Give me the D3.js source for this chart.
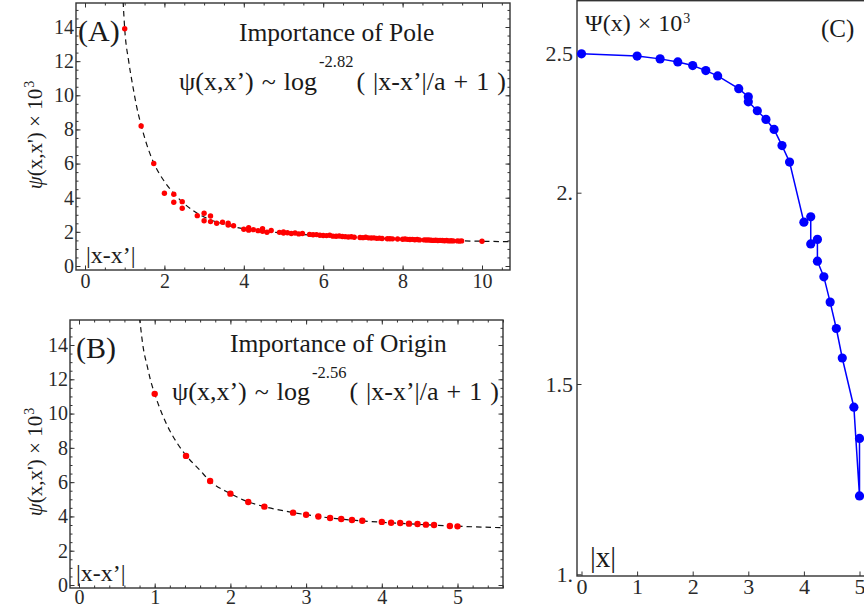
<!DOCTYPE html>
<html>
<head>
<meta charset="utf-8">
<script src="https://cdn.jsdelivr.net/npm/d3@7"></script>
<style>
  body { margin: 0; background: #fff; }
  svg text { font-family: "Liberation Serif", "Times New Roman", serif; }
</style>
</head>
<body>
<svg id="chart" width="864" height="612"></svg>
<script>
// ---- panel A : importance of pole ----
const distA = [1.000, 1.414, 1.732, 2.000, 2.236, 2.236, 2.449, 2.449, 2.828, 3.000, 3.000, 3.162, 3.162,
  3.317, 3.464, 3.606, 3.606, 3.742, 4.000, 4.123, 4.123, 4.243, 4.359, 4.472, 4.472, 4.583, 4.690, 4.899,
  5.000, 5.000, 5.099, 5.196, 5.292, 5.385, 5.477, 5.657, 5.745, 5.831, 5.916, 6.000, 6.083, 6.164, 6.245,
  6.325, 6.403, 6.481, 6.557, 6.633, 6.708, 6.782, 6.928, 7.000, 7.071, 7.141, 7.211, 7.280, 7.348, 7.416,
  7.483, 7.616, 7.681, 7.746, 7.874, 8.000, 8.062, 8.124, 8.185, 8.246, 8.307, 8.367, 8.426, 8.544, 8.602,
  8.660, 8.718, 8.775, 8.832, 8.888, 8.944, 9.000, 9.055, 9.110, 9.165, 9.220, 9.274, 9.381, 9.434, 9.487, 10.000];
const psiA = [13.9, 8.2, 6.0, 4.26, 4.2, 3.73, 3.77, 3.38, 2.95, 3.09, 2.65, 2.93, 2.6,
  2.5, 2.56, 2.4, 2.5, 2.36, 2.15, 2.24, 2.1, 2.13, 2.07, 2.18, 2.03, 1.98, 2.08, 1.97,
  1.93, 2.0, 1.95, 1.9, 1.93, 1.88, 1.9, 1.85, 1.83, 1.84, 1.8, 1.79, 1.78, 1.8, 1.75,
  1.74, 1.76, 1.73, 1.72, 1.7, 1.71, 1.68, 1.67, 1.66, 1.68, 1.65, 1.64, 1.65, 1.62, 1.63,
  1.61, 1.6, 1.6, 1.59, 1.58, 1.57, 1.58, 1.56, 1.55, 1.56, 1.54, 1.55, 1.53, 1.53, 1.52,
  1.52, 1.51, 1.5, 1.51, 1.49, 1.5, 1.49, 1.48, 1.49, 1.47, 1.48, 1.47, 1.47, 1.46, 1.47, 1.45];
// dashed fit curve
const fitAx = [0.96, 1.0, 1.1, 1.2, 1.3, 1.42, 1.55, 1.74, 2.0, 2.22, 2.5, 2.75, 3.0, 3.5, 4.0, 4.5, 5.0, 6.0, 7.0, 8.0, 9.0, 10.0, 10.8];
const fitAy = [15.5, 13.9, 12.0, 10.6, 9.35, 8.2, 7.15, 6.0, 4.95, 4.3, 3.65, 3.2, 2.87, 2.45, 2.18, 2.03, 1.93, 1.77, 1.66, 1.57, 1.5, 1.45, 1.42];
const xTicksA = [0, 2, 4, 6, 8, 10];
const yTicksA = [0, 2, 4, 6, 8, 10, 12, 14];

// ---- panel B : importance of origin ----
const distB = [1.000, 1.414, 1.732, 2.000, 2.236, 2.449, 2.828, 3.000, 3.162, 3.317, 3.464, 3.606, 3.742,
  4.000, 4.123, 4.243, 4.359, 4.472, 4.583, 4.690, 4.899, 5.000];
const psiB = [11.15, 7.53, 6.07, 5.33, 4.84, 4.57, 4.22, 4.1, 4.0, 3.91, 3.85, 3.79, 3.75,
  3.68, 3.63, 3.62, 3.58, 3.56, 3.52, 3.5, 3.44, 3.42];
const fitBx = [0.8, 0.85, 0.9, 0.94, 1.0, 1.1, 1.2, 1.3, 1.42, 1.6, 1.73, 2.0, 2.24, 2.45, 2.8, 3.0, 3.5, 4.0, 4.5, 5.0, 5.7];
const fitBy = [15.6, 13.8, 12.8, 12.03, 11.15, 9.95, 9.0, 8.25, 7.53, 6.68, 6.07, 5.33, 4.84, 4.57, 4.25, 4.1, 3.83, 3.66, 3.54, 3.43, 3.33];
const xTicksB = [0, 1, 2, 3, 4, 5];
const yTicksB = [0, 2, 4, 6, 8, 10, 12, 14];

// ---- panel C : Psi(x) ----
const distC = [0, 1.0, 1.414, 1.732, 2.0, 2.236, 2.449, 2.828, 3.0, 3.0, 3.162, 3.317, 3.464, 3.606, 3.742,
  4.0, 4.123, 4.123, 4.243, 4.243, 4.359, 4.472, 4.583, 4.690, 4.899, 5.0, 5.0];
const psiC = [2.498, 2.490, 2.480, 2.469, 2.456, 2.438, 2.419, 2.373, 2.344, 2.326, 2.294, 2.263, 2.227, 2.169, 2.11,
  1.923, 1.937, 1.866, 1.878, 1.821, 1.78, 1.714, 1.645, 1.568, 1.439, 1.206, 1.357];
const xTicksC = [0, 1, 2, 3, 4, 5];
const yTicksC = [1, 1.5, 2, 2.5];
const yLabelsC = ["1.", "1.5", "2.", "2.5"];

const svg = d3.select("#chart");
const SERIF = "'Liberation Serif', 'Times New Roman', serif";

function framePanel(id, box, x, y, o) {
  const g = svg.append("g");
  g.append("clipPath").attr("id", "clip" + id)
    .append("rect").attr("x", box.l).attr("y", box.t).attr("width", box.r - box.l).attr("height", box.b - box.t);

  const inX = v => x(v) >= box.l && x(v) <= box.r;
  const inY = v => y(v) >= box.t && y(v) <= box.b;
  const style = (sel, fs) => {
    sel.attr("font-family", null);
    sel.select(".domain").remove();
    sel.selectAll("line").attr("stroke", "#333").attr("stroke-width", 1);
    sel.selectAll("text").attr("font-size", fs).attr("fill", "#2a2a2a").style("font-family", SERIF);
  };

  // minor ticks
  if (o.xMinor) {
    const mx = o.xMinor.filter(inX), my = o.yMinor.filter(inY);
    g.append("g").attr("transform", `translate(0,${box.b})`).call(d3.axisBottom(x).tickValues(mx).tickSize(-2.5).tickFormat("")).call(s => style(s, 0));
    g.append("g").attr("transform", `translate(0,${box.t})`).call(d3.axisTop(x).tickValues(mx).tickSize(-2.5).tickFormat("")).call(s => style(s, 0));
    g.append("g").attr("transform", `translate(${box.l},0)`).call(d3.axisLeft(y).tickValues(my).tickSize(-2.5).tickFormat("")).call(s => style(s, 0));
    g.append("g").attr("transform", `translate(${box.r},0)`).call(d3.axisRight(y).tickValues(my).tickSize(-2.5).tickFormat("")).call(s => style(s, 0));
  }
  // major ticks with labels
  g.append("g").attr("transform", `translate(0,${box.b})`)
    .call(d3.axisBottom(x).tickValues(o.xTicks).tickSize(-4.5).tickPadding(o.xPad).tickFormat(d3.format("d")))
    .call(s => style(s, o.fs));
  g.append("g").attr("transform", `translate(${box.l},0)`)
    .call(d3.axisLeft(y).tickValues(o.yTicks).tickSize(-4.5).tickPadding(o.yPad).tickFormat((d, i) => o.yFmt ? o.yFmt[i] : d))
    .call(s => style(s, o.fs));
  if (o.allSides) {
    g.append("g").attr("transform", `translate(0,${box.t})`)
      .call(d3.axisTop(x).tickValues(o.xTicks).tickSize(-4.5).tickFormat("")).call(s => style(s, 0));
    g.append("g").attr("transform", `translate(${box.r},0)`)
      .call(d3.axisRight(y).tickValues(o.yTicks).tickSize(-4.5).tickFormat("")).call(s => style(s, 0));
  }
  g.append("rect").attr("x", box.l).attr("y", box.t).attr("width", box.r - box.l).attr("height", box.b - box.t)
    .attr("fill", "none").attr("stroke", "#333").attr("stroke-width", 1.4);
  return g;
}

// pieces of text laid side by side (measured), superscripts lifted
function addText(x, y, parts, fs, opts = {}) {
  const g = svg.append("g");
  let cx = 0;
  parts.forEach(p => {
    const t = g.append("text").attr("x", cx).attr("y", p.sup ? -p.lift : 0)
      .attr("font-size", p.sup ? p.fs : fs).attr("fill", "#1a1a1a").text(p.t);
    if (p.it) t.attr("font-style", "italic");
    if (opts.ws) t.attr("word-spacing", opts.ws);
    cx += t.node().getComputedTextLength() + (p.gap || 0);
  });
  g.attr("transform", opts.rotate
    ? `translate(${x},${y}) rotate(-90) translate(${-cx / 2},0)`
    : `translate(${x},${y})`);
  return g;
}

// ---------- panel A ----------
const boxA = { l: 76, r: 510, t: 3, b: 270 };
const xA = d3.scaleLinear().domain([0, 10]).range([85, 482]);
const yA = d3.scaleLinear().domain([0, 14]).range([266, 27]);
const gA = framePanel("A", boxA, xA, yA, {
  xTicks: xTicksA, yTicks: yTicksA, xMinor: d3.range(-0.5, 11, 0.5), yMinor: d3.range(-0.5, 16, 0.5),
  fs: 20, xPad: 4, yPad: 2, allSides: true
});
const lineA = d3.line().x(d => xA(d[0])).y(d => yA(d[1])).curve(d3.curveMonotoneX);
gA.append("path").datum(fitAx.map((v, i) => [v, fitAy[i]])).attr("d", lineA)
  .attr("clip-path", "url(#clipA)").attr("fill", "none").attr("stroke", "#111").attr("stroke-width", 1.2).attr("stroke-dasharray", "5.5,4");
gA.append("g").selectAll("circle").data(distA.map((v, i) => [v, psiA[i]])).join("circle")
  .attr("cx", d => xA(d[0])).attr("cy", d => yA(d[1])).attr("r", 2.7).attr("fill", "#f00");

addText(78, 41, [{ t: "(A)" }], 30);
addText(239, 41, [{ t: "Importance of Pole" }], 25.5);
addText(179, 90, [{ t: "ψ(x,x’) ~ log", gap: 2 }, { t: "-2.82", sup: true, fs: 16.5, lift: 23, gap: 3 }, { t: "( |x-x’|/a + 1 )" }], 26, { ws: 1.5 });
addText(86, 263, [{ t: "|x-x’|" }], 24);
addText(42, 135, [{ t: "ψ", it: true }, { t: "(x,x') × 10", gap: 1 }, { t: "3", sup: true, fs: 14, lift: 8 }], 21, { rotate: true });

// ---------- panel B ----------
const boxB = { l: 70, r: 503, t: 320, b: 588 };
const xB = d3.scaleLinear().domain([0, 5]).range([79, 457.5]);
const yB = d3.scaleLinear().domain([0, 14]).range([585, 345]);
const gB = framePanel("B", boxB, xB, yB, {
  xTicks: xTicksB, yTicks: yTicksB, xMinor: d3.range(-0.2, 6, 0.2), yMinor: d3.range(-0.5, 16, 0.5),
  fs: 20, xPad: 2, yPad: 2, allSides: true
});
const lineB = d3.line().x(d => xB(d[0])).y(d => yB(d[1])).curve(d3.curveMonotoneX);
gB.append("path").datum(fitBx.map((v, i) => [v, fitBy[i]])).attr("d", lineB)
  .attr("clip-path", "url(#clipB)").attr("fill", "none").attr("stroke", "#111").attr("stroke-width", 1.2).attr("stroke-dasharray", "5.5,4");
gB.append("g").selectAll("circle").data(distB.map((v, i) => [v, psiB[i]])).join("circle")
  .attr("cx", d => xB(d[0])).attr("cy", d => yB(d[1])).attr("r", 3.2).attr("fill", "#f00");

addText(76, 358, [{ t: "(B)" }], 30);
addText(230, 352, [{ t: "Importance of Origin" }], 25.5);
addText(172, 400, [{ t: "ψ(x,x’) ~ log", gap: 2 }, { t: "-2.56", sup: true, fs: 16.5, lift: 22, gap: 3 }, { t: "( |x-x’|/a + 1 )" }], 26, { ws: 1.5 });
addText(76, 581, [{ t: "|x-x’|" }], 24);
addText(42, 462, [{ t: "ψ", it: true }, { t: "(x,x') × 10", gap: 1 }, { t: "3", sup: true, fs: 14, lift: 8 }], 21, { rotate: true });

// ---------- panel C ----------
const boxC = { l: 577, r: 920, t: 0.7, b: 576 };
const xC = d3.scaleLinear().domain([0, 5]).range([581.5, 859.5]);
const yC = d3.scaleLinear().domain(yTicksC).range([574.3, 384, 192.7, 53.3]);
const gC = framePanel("C", boxC, xC, yC, {
  xTicks: xTicksC, yTicks: yTicksC, yFmt: yLabelsC, fs: 22, xPad: 2, yPad: 4, allSides: false
});
const lineC = d3.line().x(d => xC(d[0])).y(d => yC(d[1]));
const ptsC = distC.map((v, i) => [v, psiC[i]]);
gC.append("path").datum(ptsC).attr("d", lineC)
  .attr("fill", "none").attr("stroke", "#0000ff").attr("stroke-width", 1.5);
gC.append("g").selectAll("circle").data(ptsC).join("circle")
  .attr("cx", d => xC(d[0])).attr("cy", d => yC(d[1])).attr("r", 4.6).attr("fill", "#0000ff");

addText(585, 31, [{ t: "Ψ(x) × 10", gap: 1 }, { t: "3", sup: true, fs: 14, lift: 8 }], 24, { ws: 1 });
addText(821, 37, [{ t: "(C)" }], 25);
addText(590, 567, [{ t: "|x|" }], 29);
</script>
</body>
</html>
